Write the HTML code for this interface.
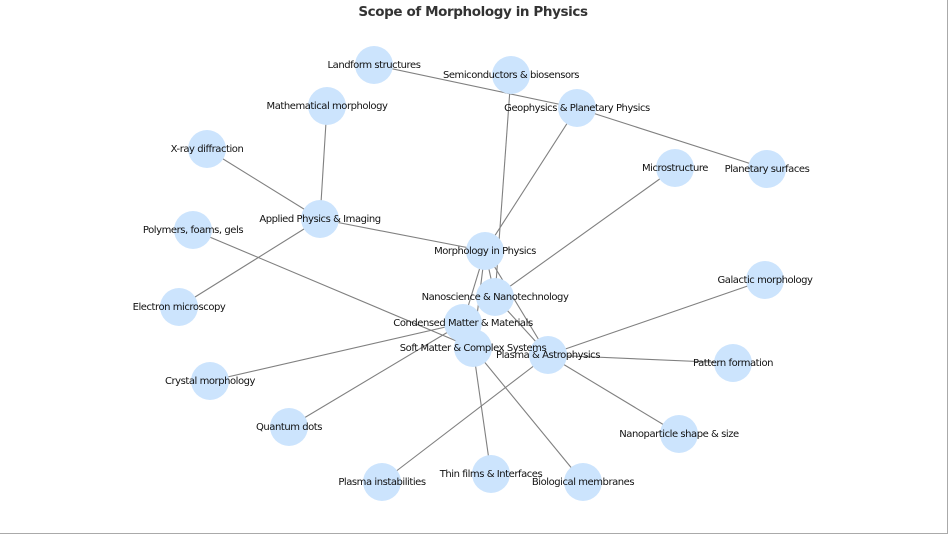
<!DOCTYPE html>
<html><head><meta charset="utf-8"><style>
html,body{margin:0;padding:0;background:#fff}
svg{display:block}
text{font-family:"DejaVu Sans","Liberation Sans",sans-serif;font-size:10px;letter-spacing:-0.45px;fill:#111;text-anchor:middle;dominant-baseline:central}
</style></head><body>
<svg width="948" height="534" viewBox="0 0 948 534" xmlns="http://www.w3.org/2000/svg">
<line x1="947.5" y1="0" x2="947.5" y2="534" stroke="#aaa"/>
<line x1="0" y1="533.5" x2="948" y2="533.5" stroke="#aaa"/>
<text x="473" y="12" style="font-size:13.5px;letter-spacing:-0.4px;font-weight:bold;fill:#333">Scope of Morphology in Physics</text>
<g stroke="#808080" stroke-width="1.1">
<line x1="374" y1="65" x2="577" y2="108"/>
<line x1="577" y1="108" x2="767" y2="169"/>
<line x1="577" y1="108" x2="485" y2="251"/>
<line x1="511" y1="75" x2="495" y2="297"/>
<line x1="485" y1="251" x2="320" y2="219"/>
<line x1="485" y1="251" x2="495" y2="297"/>
<line x1="485" y1="251" x2="463" y2="323"/>
<line x1="485" y1="251" x2="473" y2="348"/>
<line x1="485" y1="251" x2="548" y2="355"/>
<line x1="320" y1="219" x2="327" y2="106"/>
<line x1="320" y1="219" x2="207" y2="149"/>
<line x1="320" y1="219" x2="179" y2="307"/>
<line x1="193" y1="230" x2="473" y2="348"/>
<line x1="210" y1="381" x2="463" y2="323"/>
<line x1="289" y1="427" x2="463" y2="323"/>
<line x1="675" y1="168" x2="495" y2="297"/>
<line x1="495" y1="297" x2="548" y2="355"/>
<line x1="765" y1="280" x2="548" y2="355"/>
<line x1="733" y1="363" x2="548" y2="355"/>
<line x1="679" y1="434" x2="548" y2="355"/>
<line x1="382" y1="482" x2="548" y2="355"/>
<line x1="491" y1="474" x2="473" y2="348"/>
<line x1="583" y1="482" x2="473" y2="348"/>
</g>
<g fill="#cce4fd">
<circle cx="374" cy="65" r="19"/><circle cx="511" cy="75" r="19"/><circle cx="577" cy="108" r="19"/>
<circle cx="327" cy="106" r="19"/><circle cx="207" cy="149" r="19"/><circle cx="675" cy="168" r="19"/>
<circle cx="767" cy="169" r="19"/><circle cx="320" cy="219" r="19"/><circle cx="193" cy="230" r="19"/>
<circle cx="485" cy="251" r="19"/><circle cx="765" cy="280" r="19"/><circle cx="495" cy="297" r="19"/>
<circle cx="179" cy="307" r="19"/><circle cx="463" cy="323" r="19"/><circle cx="473" cy="348" r="19"/>
<circle cx="548" cy="355" r="19"/><circle cx="733" cy="363" r="19"/><circle cx="210" cy="381" r="19"/>
<circle cx="289" cy="427" r="19"/><circle cx="679" cy="434" r="19"/><circle cx="491" cy="474" r="19"/>
<circle cx="382" cy="482" r="19"/><circle cx="583" cy="482" r="19"/>
</g>
<g transform="translate(0,0.5)">
<text x="374" y="65">Landform structures</text>
<text x="511" y="75">Semiconductors &amp; biosensors</text>
<text x="577" y="108">Geophysics &amp; Planetary Physics</text>
<text x="327" y="106">Mathematical morphology</text>
<text x="207" y="149">X-ray diffraction</text>
<text x="675" y="168">Microstructure</text>
<text x="767" y="169">Planetary surfaces</text>
<text x="320" y="219">Applied Physics &amp; Imaging</text>
<text x="193" y="230">Polymers, foams, gels</text>
<text x="485" y="251">Morphology in Physics</text>
<text x="765" y="280">Galactic morphology</text>
<text x="495" y="297">Nanoscience &amp; Nanotechnology</text>
<text x="179" y="307">Electron microscopy</text>
<text x="463" y="323">Condensed Matter &amp; Materials</text>
<text x="473" y="348">Soft Matter &amp; Complex Systems</text>
<text x="548" y="355">Plasma &amp; Astrophysics</text>
<text x="733" y="363">Pattern formation</text>
<text x="210" y="381">Crystal morphology</text>
<text x="289" y="427">Quantum dots</text>
<text x="679" y="434">Nanoparticle shape &amp; size</text>
<text x="491" y="474">Thin films &amp; Interfaces</text>
<text x="382" y="482">Plasma instabilities</text>
<text x="583" y="482">Biological membranes</text>
</g>
</svg>
</body></html>
